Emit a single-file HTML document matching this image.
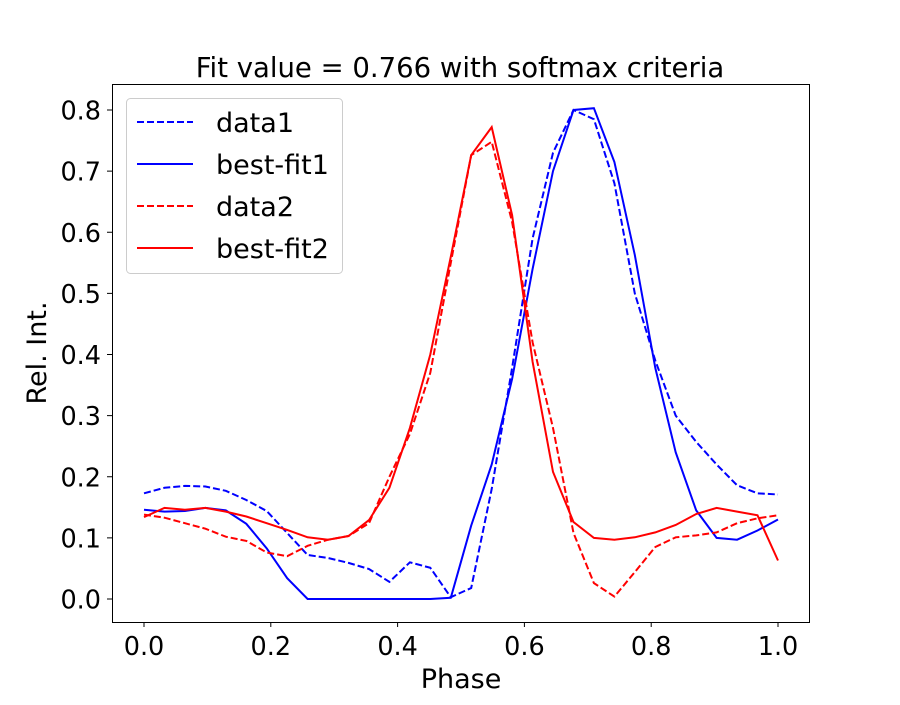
<!DOCTYPE html>
<html><head><meta charset="utf-8"><style>
body{margin:0;background:#fff}
svg text{font-family:"DejaVu Sans","Liberation Sans",sans-serif;fill:#000}
</style></head><body>
<svg id="chart" width="900" height="700" xmlns="http://www.w3.org/2000/svg">
<rect width="900" height="700" fill="#fff"/>
<text x="460" y="77" font-size="27.5" text-anchor="middle">Fit value = 0.766 with softmax criteria</text>
<g id="plot"></g>
<rect x="112.5" y="84.5" width="697" height="538" fill="none" stroke="#000" stroke-width="1"/>
<g id="ticks"></g>
<text x="461" y="688" font-size="27" text-anchor="middle">Phase</text>
<text x="46" y="353" font-size="27" text-anchor="middle" transform="rotate(-90 46 353)">Rel. Int.</text>
<g>
<rect x="126.5" y="98.5" width="216" height="175" rx="4" fill="#fff" fill-opacity="0.8" stroke="#ccc"/>
<line x1="137" y1="122" x2="193" y2="122" stroke="#0000ff" stroke-width="2" stroke-dasharray="7,3"/>
<text x="216" y="132" font-size="27">data1</text>
<line x1="137" y1="164" x2="193" y2="164" stroke="#0000ff" stroke-width="2"/>
<text x="216" y="174" font-size="27">best-fit1</text>
<line x1="137" y1="206" x2="193" y2="206" stroke="#ff0000" stroke-width="2" stroke-dasharray="7,3"/>
<text x="216" y="216" font-size="27">data2</text>
<line x1="137" y1="248" x2="193" y2="248" stroke="#ff0000" stroke-width="2"/>
<text x="216" y="258" font-size="27">best-fit2</text>
</g>
</svg>
<script>
const data1 = [0.173,0.182,0.185,0.184,0.177,0.162,0.144,0.108,0.072,0.067,0.059,0.049,0.028,0.060,0.051,0.003,0.018,0.18,0.378,0.59,0.73,0.80,0.785,0.68,0.50,0.39,0.30,0.257,0.22,0.186,0.173,0.171];
const bestFit1 = [0.146,0.143,0.144,0.149,0.145,0.123,0.083,0.034,0.0,0.0,0.0,0.0,0.0,0.0,0.0,0.002,0.12,0.22,0.36,0.54,0.70,0.80,0.803,0.715,0.563,0.378,0.24,0.145,0.10,0.097,0.112,0.13];
const data2 = [0.138,0.133,0.124,0.115,0.102,0.095,0.076,0.070,0.087,0.097,0.103,0.124,0.20,0.27,0.37,0.55,0.726,0.748,0.617,0.42,0.28,0.108,0.026,0.004,0.044,0.085,0.101,0.104,0.109,0.124,0.132,0.137];
const bestFit2 = [0.134,0.149,0.146,0.149,0.143,0.135,0.124,0.113,0.101,0.097,0.103,0.129,0.182,0.28,0.40,0.56,0.726,0.772,0.628,0.388,0.208,0.126,0.10,0.097,0.101,0.109,0.121,0.139,0.149,0.143,0.137,0.063];
const xTicks = [0.0,0.2,0.4,0.6,0.8,1.0];
const yTicks = [0.0,0.1,0.2,0.3,0.4,0.5,0.6,0.7,0.8];
const NS="http://www.w3.org/2000/svg";
function xs(v){return 144+v*634;}
function ys(v){return 599-v*611.25;}
const plot=document.getElementById('plot');
const series=[[data1,'#0000ff',true,'series-data1'],[bestFit1,'#0000ff',false,'series-best-fit1'],[data2,'#ff0000',true,'series-data2'],[bestFit2,'#ff0000',false,'series-best-fit2']];
series.forEach(s=>{
  const n=s[0].length;
  const pts=s[0].map((v,i)=>xs(i/(n-1)).toFixed(1)+','+ys(v).toFixed(1)).join(' ');
  const pl=document.createElementNS(NS,'polyline');
  pl.setAttribute('points',pts);pl.setAttribute('fill','none');
  pl.setAttribute('stroke',s[1]);pl.setAttribute('stroke-width','2');
  if(s[2])pl.setAttribute('stroke-dasharray','7,3');
  
  
  plot.appendChild(pl);
});
const tg=document.getElementById('ticks');
xTicks.forEach(t=>{
  const l=document.createElementNS(NS,'line');
  l.setAttribute('x1',xs(t));l.setAttribute('x2',xs(t));l.setAttribute('y1',622);l.setAttribute('y2',627);l.setAttribute('stroke','#000');
  
  
  tg.appendChild(l);
  const tx=document.createElementNS(NS,'text');
  tx.setAttribute('x',xs(t));tx.setAttribute('y',655);tx.setAttribute('font-size','25.5');tx.setAttribute('text-anchor','middle');
  tx.textContent=t.toFixed(1);
  
  
  tg.appendChild(tx);
});
yTicks.forEach(t=>{
  const l=document.createElementNS(NS,'line');
  l.setAttribute('x1',107);l.setAttribute('x2',112);l.setAttribute('y1',ys(t));l.setAttribute('y2',ys(t));l.setAttribute('stroke','#000');
  
  
  tg.appendChild(l);
  const tx=document.createElementNS(NS,'text');
  tx.setAttribute('x',101);tx.setAttribute('y',ys(t)+9.5);tx.setAttribute('font-size','25.5');tx.setAttribute('text-anchor','end');
  tx.textContent=t.toFixed(1);
  
  
  tg.appendChild(tx);
});
</script>
</body></html>
